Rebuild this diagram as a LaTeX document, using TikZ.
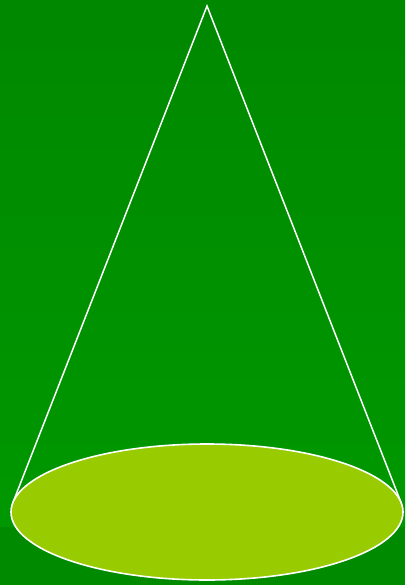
\documentclass[tikz,border=0pt]{standalone}
\usepackage{tikz}
\usetikzlibrary{shapes.geometric}
\definecolor{bgtop}{HTML}{008800}
\definecolor{bgbot}{HTML}{009800}
\definecolor{floorgreen}{HTML}{008A00}
\definecolor{basefill}{HTML}{99CC00}
\tikzset{
  edge/.style={draw=white,line width=1.5pt},
  basedisc/.style={ellipse,draw=white,line width=1.6pt,fill=basefill,minimum width=392pt,minimum height=136pt,inner sep=0pt}
}
\begin{document}
\begin{tikzpicture}[x=1pt,y=-1pt]
  \useasboundingbox (0,0) rectangle (405,585);
  \shade[top color=bgtop,bottom color=bgbot] (0,0) rectangle (405,527);
  \fill[floorgreen] (0,527) rectangle (405,585);

  \coordinate (apex) at (207,6);
  \coordinate (tl) at (12.8,502.9);
  \coordinate (tr) at (401.2,502.9);

  \draw[edge] (tl) -- (apex) -- (tr);
  \node[basedisc] (base) at (207,512) {};
\end{tikzpicture}
\end{document}
